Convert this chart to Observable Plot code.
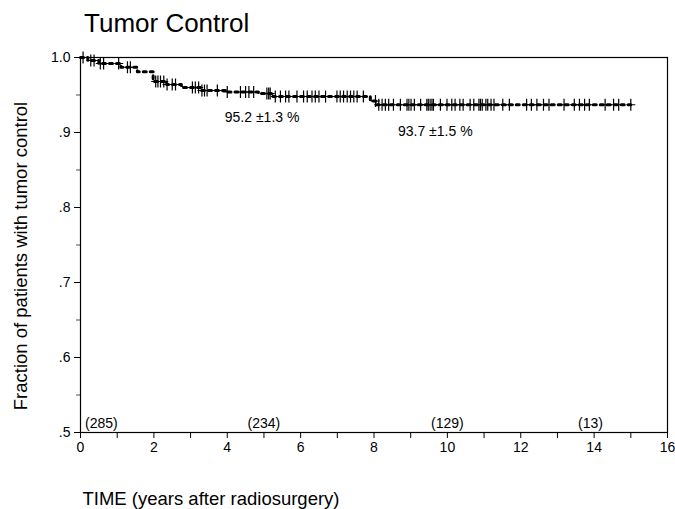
<!DOCTYPE html>
<html><head><meta charset="utf-8">
<script src="https://cdn.jsdelivr.net/npm/d3@7"></script>
<script src="https://cdn.jsdelivr.net/npm/@observablehq/plot@0.6"></script>
<style>
body{margin:0;background:#fff;font-family:"Liberation Sans",Arial,Helvetica,sans-serif;}
#wrap{position:relative;width:675px;height:509px;overflow:hidden;}
#title{position:absolute;left:84px;top:10px;font-size:26px;line-height:26px;color:#000;white-space:nowrap;}
</style></head><body>
<div id="wrap"><div id="title">Tumor Control</div></div>
<script>
// Kaplan-Meier step function (time in years, fraction with tumor control)
const stepTimes  = [0, 0.2, 0.5, 1.1, 1.55, 1.98, 2.35, 2.75, 3.3, 4.0, 4.85, 5.25, 7.9, 8.05];
const stepValues = [1.0, 0.996, 0.992, 0.987, 0.981, 0.968, 0.964, 0.960, 0.956, 0.954, 0.952, 0.948, 0.942, 0.937];
const endTime = 15.0;
// censored observations (years)
const censorTimes = [0.07, 0.28, 0.37, 0.54, 0.63, 1.04, 1.28, 1.36, 2.05, 2.11, 2.18, 2.27, 2.36, 2.5, 2.59,
  3.05, 3.13, 3.22, 3.31, 3.38, 3.45, 3.73, 4.0, 4.36, 4.5, 4.59, 4.72, 5.08, 5.13, 5.17, 5.31, 5.45, 5.59,
  5.68, 5.9, 6.08, 6.18, 6.31, 6.4, 6.5, 6.68, 6.99, 7.08, 7.17, 7.27, 7.36, 7.45, 7.54, 7.71, 8.04, 8.13,
  8.22, 8.31, 8.4, 8.53, 8.72, 8.9, 8.95, 9.01, 9.1, 9.27, 9.44, 9.48, 9.53, 9.58, 9.62, 9.81, 9.99, 10.12,
  10.21, 10.34, 10.43, 10.62, 10.72, 10.86, 10.9, 10.95, 11.05, 11.1, 11.19, 11.27, 11.51, 11.69, 12.16,
  12.29, 12.44, 12.62, 12.77, 13.18, 13.46, 13.6, 13.74, 13.87, 14.3, 14.53, 14.67, 15.0];
// axes
const xMajorTicks = [0, 2, 4, 6, 8, 10, 12, 14, 16];
const xMinorTicks = [1, 3, 5, 7, 9, 11, 13, 15];
const yMajorTicks = [0.5, 0.6, 0.7, 0.8, 0.9, 1.0];
const yTickLabels = [".5", ".6", ".7", ".8", ".9", "1.0"];
const yMinorTicks = [0.55, 0.65, 0.75, 0.85, 0.95];
// numbers at risk
const atRiskTimes  = [0.57, 5.0, 10.0, 13.9];
const atRiskLabels = ["(285)", "(234)", "(129)", "(13)"];
const atRiskY = 0.512;
// annotations
const noteTimes  = [4.95, 9.67];
const noteValues = [0.920, 0.901];
const noteLabels = ["95.2 ±1.3 %", "93.7 ±1.5 %"];
const xLabel = "TIME (years after radiosurgery)";
const yLabel = "Fraction of patients with tumor control";

function surv(t) {
  let v = stepValues[0];
  for (let i = 0; i < stepTimes.length; i++) if (stepTimes[i] <= t) v = stepValues[i];
  return v;
}
const curve = stepTimes.map((t, i) => ({t, s: stepValues[i]}));
curve.push({t: endTime, s: stepValues[stepValues.length - 1]});
const censors = censorTimes.map(t => ({t, s: surv(t)}));
const atRisk = atRiskTimes.map((t, i) => ({t, y: atRiskY, label: atRiskLabels[i]}));
const notes = noteTimes.map((t, i) => ({t, y: noteValues[i], label: noteLabels[i]}));

const plusSymbol = {
  draw(ctx, size) {
    const r = Math.sqrt(size / Math.PI);
    ctx.moveTo(0, -r); ctx.lineTo(0, r);
    ctx.moveTo(-r * 0.75, 0); ctx.lineTo(r * 0.75, 0);
  }
};

const chart = Plot.plot({
  width: 675, height: 509,
  marginLeft: 80, marginRight: 8, marginTop: 57, marginBottom: 77,
  style: {fontFamily: '"Liberation Sans", Arial, Helvetica, sans-serif', fontSize: "14px", background: "#fff", color: "#000"},
  x: {domain: [0, 16]},
  y: {domain: [0.5, 1.0]},
  marks: [
    Plot.frame({stroke: "#000", strokeWidth: 1.2}),
    Plot.axisX(xMajorTicks, {tickSize: 6, tickPadding: 4, fontSize: 14, label: null, tickFormat: d => String(d)}),
    Plot.axisX(xMinorTicks, {tickSize: 6, tickFormat: () => "", label: null}),
    Plot.axisY(yMajorTicks, {tickSize: 6, tickPadding: 4, fontSize: 14, label: null,
      tickFormat: d => yTickLabels[yMajorTicks.findIndex(v => Math.abs(v - d) < 1e-9)]}),
    Plot.axisY(yMinorTicks, {tickSize: 4, tickFormat: () => "", label: null, strokeOpacity: 0.7}),
    Plot.line(curve, {x: "t", y: "s", curve: "step-after", stroke: "#000", strokeWidth: 3, strokeDasharray: "3,4"}),
    Plot.dot(censors, {x: "t", y: "s", symbol: plusSymbol, r: 6, stroke: "#000", strokeWidth: 1.2, fill: "none"}),
    Plot.text(atRisk, {x: "t", y: "y", text: "label", fontSize: 14, fill: "#000"}),
    Plot.text(notes, {x: "t", y: "y", text: "label", fontSize: 14, fill: "#000"}),
    Plot.text([xLabel], {frameAnchor: "bottom-left", dx: 2, dy: 72, text: d => d, textAnchor: "start", lineAnchor: "bottom", fontSize: 18.5, fill: "#000"}),
    Plot.text([yLabel], {frameAnchor: "left", dx: -59, dy: 11, rotate: -90, text: d => d, textAnchor: "middle", lineAnchor: "middle", fontSize: 18.5, fill: "#000"})
  ]
});
document.getElementById("wrap").prepend(chart);
</script>
</body></html>
